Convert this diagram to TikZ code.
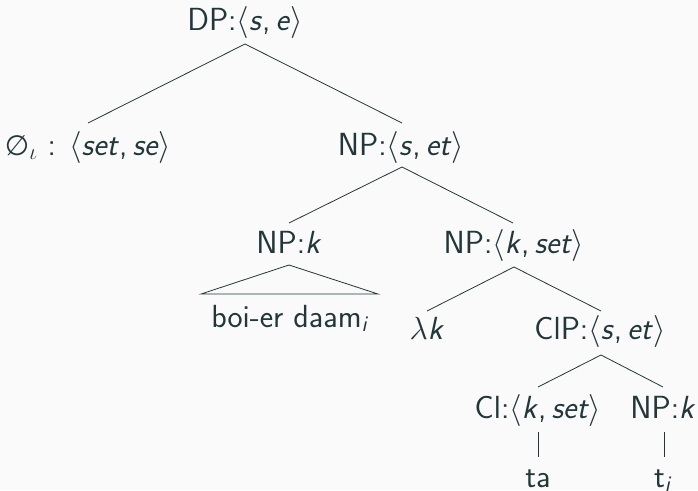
\RequirePackage{fix-cm}
\documentclass[tikz,border=0pt]{standalone}
\usepackage{fontspec}
\newfontfamily\dejavu{DejaVu Sans}
\definecolor{fg}{HTML}{23373B}
\definecolor{bg}{HTML}{FAFAFA}
\newcommand\ti[1]{\textit{#1}}
\newcommand\la{$\langle$}
\newcommand\ra{$\rangle$}
\newcommand\cm{,\kern0.16em}
\begin{document}
\begin{tikzpicture}[x=1pt,y=-1pt,
  lab/.style={text=fg,font=\fontsize{32}{38}\selectfont\sffamily,inner sep=0pt,anchor=base},
  br/.style={draw=fg,line width=0.8pt}]
\fill[bg] (0,0) rectangle (698,490);
\useasboundingbox (0,0) rectangle (698,490);
\node[lab] (dp) at (245,30) {DP:\la\ti{s}\cm\ti{e}\ra};
\node[lab] (null) at (88,155) {{\dejavu\fontsize{28}{30}\selectfont ∅}$_\iota$ : \la\ti{set}\cm\ti{se}\ra};
\node[lab] (np1) at (401,155) {NP:\la\ti{s}\cm\ti{et}\ra};
\node[lab] (npk) at (289,253) {NP:\ti{k}};
\node[lab] (boi) at (290,327) {boi-er daam\textsubscript{\textit{i}}};
\node[lab] (npks) at (514,253) {NP:\la\ti{k}\cm\ti{set}\ra};
\node[lab] (lk) at (427,339) {$\lambda$\ti{k}};
\node[lab] (cip) at (600,339) {ClP:\la\ti{s}\cm\ti{et}\ra};
\node[lab] (cl) at (538,418) {Cl:\la\ti{k}\cm\ti{set}\ra};
\node[lab] (npk2) at (663,418) {NP:\ti{k}};
\node[lab] (ta) at (538,487) {ta};
\node[lab] (ti) at (663,487) {t\textsubscript{\textit{i}}};
\coordinate (dpb) at (245,44);
\coordinate (nullt) at (88,123);
\coordinate (np1t) at (402,123);
\coordinate (np1b) at (402,167);
\coordinate (npkt) at (289,223);
\coordinate (npkst) at (513,223);
\coordinate (npkb) at (289,265);
\coordinate (triL) at (201,294);
\coordinate (triR) at (378,294);
\coordinate (npksb) at (514,267);
\coordinate (lkt) at (427,311);
\coordinate (cipt) at (601,311);
\coordinate (cipb) at (601,355);
\coordinate (clt) at (538,387);
\coordinate (npk2t) at (663,387);
\coordinate (clb) at (538,432);
\coordinate (tat) at (538,457);
\coordinate (npk2b) at (664,432);
\coordinate (tit) at (664,457);
\draw[br] (dpb) -- (nullt);
\draw[br] (dpb) -- (np1t);
\draw[br] (np1b) -- (npkt);
\draw[br] (np1b) -- (npkst);
\draw[br] (npkb) -- (triL) -- (triR) -- cycle;
\draw[br] (npksb) -- (lkt);
\draw[br] (npksb) -- (cipt);
\draw[br] (cipb) -- (clt);
\draw[br] (cipb) -- (npk2t);
\draw[br] (clb) -- (tat);
\draw[br] (npk2b) -- (tit);
\end{tikzpicture}
\end{document}
